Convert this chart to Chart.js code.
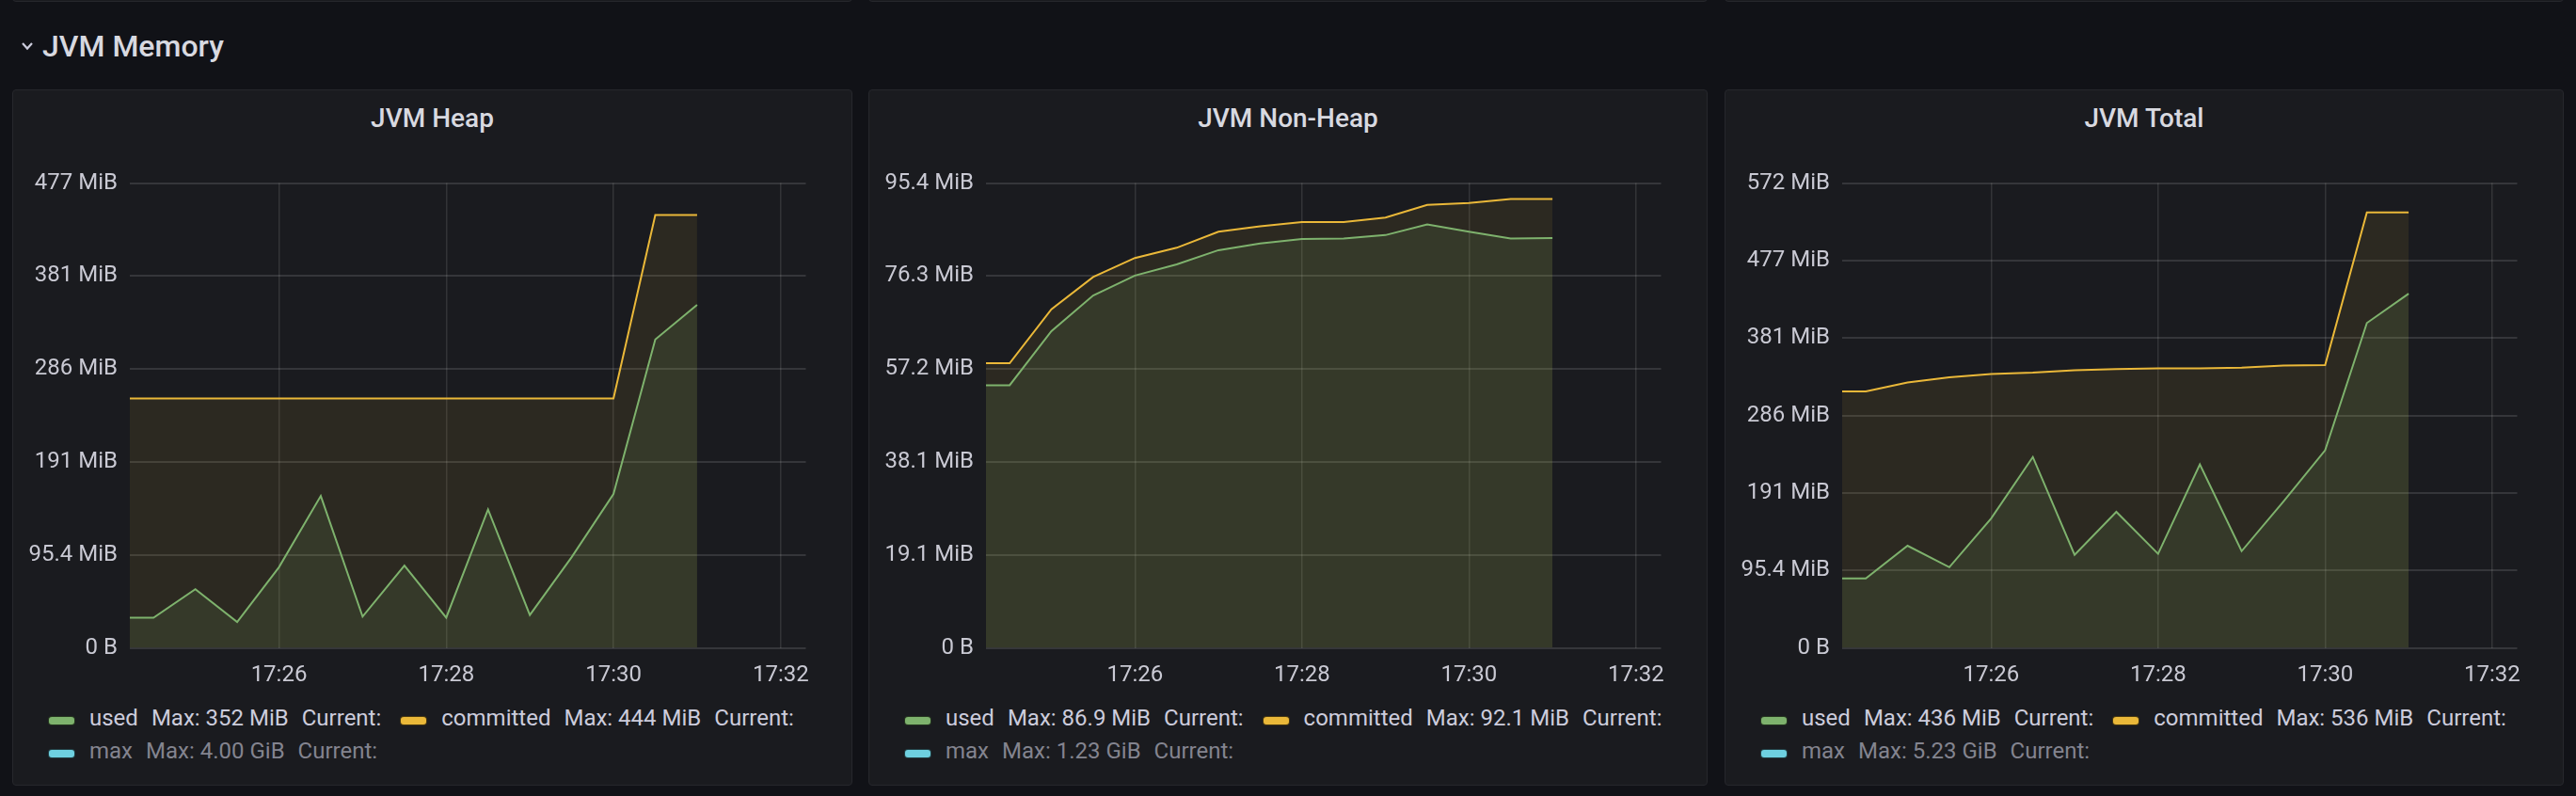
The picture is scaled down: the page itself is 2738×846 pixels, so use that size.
<!DOCTYPE html>
<html>
<head>
<meta charset="utf-8">
<title>JVM Memory</title>
<script src="https://cdn.jsdelivr.net/npm/chart.js@4.4.1/dist/chart.umd.min.js"></script>
<style>
    body {
        margin: 0;
        width: 2738px;
        height: 846px;
        background: #111217;
        overflow: hidden;
        position: relative;
        font-family: Roboto, 'Noto Sans', sans-serif;
        color: #ccccdc;
    }
    .panel {
        position: absolute;
        box-sizing: border-box;
        background: #1a1b1f;
        border: 1px solid #26272c;
        border-radius: 4px;
    }
    .row-title {
        position: absolute;
        left: 45px;
        top: 29px;
        font-size: 32px;
        line-height: 40px;
        font-weight: 500;
        color: #d8d9e0;
    }
    .chevron { position: absolute; left: 21px; top: 43px; }
    .panel-title {
        position: absolute;
        left: 0;
        right: 0;
        top: 13px;
        text-align: center;
        font-size: 28px;
        line-height: 34px;
        font-weight: 500;
        color: #d8d9e0;
    }
    .panel canvas { position: absolute; left: -1px; top: 64px; }
    .legend {
        position: absolute;
        left: 37px;
        top: 650px;
        width: 840px;
        display: flex;
        flex-wrap: wrap;
        font-size: 24px;
        line-height: 35px;
    }
    .legend .item { display: flex; align-items: center; margin-right: 20px; white-space: pre; }
    .legend .item.hidden { color: rgba(204, 204, 220, 0.6); }
    .legend .swatch {
        display: inline-block;
        box-sizing: border-box;
        width: 29px;
        height: 10px;
        border: 1px solid rgba(0, 0, 0, 0.7);
        border-radius: 4px;
        margin-right: 15px;
        position: relative;
        top: 2px;
    }
    .legend .val { margin-left: 14px; }
</style>
</head>
<body>

<!-- bottoms of the panels in the row above -->
<div class="panel" style="left:13px; top:-40px; width:893px; height:42px;"></div>
<div class="panel" style="left:923px; top:-40px; width:892px; height:42px;"></div>
<div class="panel" style="left:1833px; top:-40px; width:892px; height:42px;"></div>

<svg class="chevron" width="16" height="12" viewBox="0 0 16 12">
    <polyline points="3,3 8,8.5 13,3" fill="none" stroke="#ccccdc" stroke-width="2.2"/>
</svg>
<div class="row-title">JVM Memory</div>

<div class="panel" style="left:13px; top:95px; width:893px; height:740px;">
    <div class="panel-title">JVM Heap</div>
    <canvas id="heapChart" width="893" height="580"></canvas>
    <div class="legend" id="heapLegend"></div>
</div>
<div class="panel" style="left:923px; top:95px; width:892px; height:740px;">
    <div class="panel-title">JVM Non-Heap</div>
    <canvas id="nonHeapChart" width="892" height="580"></canvas>
    <div class="legend" id="nonHeapLegend"></div>
</div>
<div class="panel" style="left:1833px; top:95px; width:892px; height:740px;">
    <div class="panel-title">JVM Total</div>
    <canvas id="totalChart" width="892" height="580"></canvas>
    <div class="legend" id="totalLegend"></div>
</div>

<script>
// ---- Data (MiB, one sample every 30s) ----
const times = [
    '17:24:00', '17:24:30', '17:25:00', '17:25:30', '17:26:00', '17:26:30', '17:27:00', '17:27:30',
    '17:28:00', '17:28:30', '17:29:00', '17:29:30', '17:30:00', '17:30:30', '17:31:00',
];
const xRange = ['17:24:13', '17:32:18'];
const xTickLabels = ['17:26', '17:28', '17:30', '17:32'];

const heapUsed = [31.0, 31.0, 60.3, 26.5, 82.8, 155.9, 32.1, 84.5, 31.0, 142.1, 33.8, 93.1, 157.9, 316.5, 352.0];
const heapCommitted = [256, 256, 256, 256, 256, 256, 256, 256, 256, 256, 256, 256, 256, 444, 444];

const nonHeapUsed = [53.9, 53.9, 65.0, 72.3, 76.4, 78.7, 81.6, 83.0, 83.9, 84.0, 84.7, 86.9, 85.4, 84.0, 84.1];
const nonHeapCommitted = [58.4, 58.4, 69.5, 76.1, 80.0, 82.1, 85.4, 86.5, 87.4, 87.4, 88.3, 90.9, 91.3, 92.1, 92.1];

const totalUsed = [85.6, 85.6, 125.8, 99.3, 159.3, 235.0, 114.6, 167.5, 115.8, 225.9, 119.1, 180.0, 243.3, 400.0, 436.0];
const totalCommitted = [315.7, 315.7, 326.8, 333.0, 337.2, 338.8, 341.7, 343.4, 344.2, 344.2, 345.0, 347.5, 348.3, 536, 536];

// y ticks in MiB and the labels Grafana shows for them
const heapTicks = [0, 95.37, 190.73, 286.10, 381.47, 476.84];
const heapTickLabels = ['0 B', '95.4 MiB', '191 MiB', '286 MiB', '381 MiB', '477 MiB'];
const nonHeapTicks = [0, 19.07, 38.15, 57.22, 76.29, 95.37];
const nonHeapTickLabels = ['0 B', '19.1 MiB', '38.1 MiB', '57.2 MiB', '76.3 MiB', '95.4 MiB'];
const totalTicks = [0, 95.37, 190.73, 286.10, 381.47, 476.84, 572.20];
const totalTickLabels = ['0 B', '95.4 MiB', '191 MiB', '286 MiB', '381 MiB', '477 MiB', '572 MiB'];

// ---- Legend ----
const seriesNames = ['used', 'committed', 'max'];
const seriesColors = ['#7EB26D', '#EAB839', '#6ED0E0'];
const heapMax = ['352 MiB', '444 MiB', '4.00 GiB'];
const nonHeapMax = ['86.9 MiB', '92.1 MiB', '1.23 GiB'];
const totalMax = ['436 MiB', '536 MiB', '5.23 GiB'];

const toSec = t => {
    const p = t.split(':').map(Number);
    return p[0] * 3600 + p[1] * 60 + (p[2] || 0);
};

const tickFont = { family: 'Roboto', size: 24 };
const tickColor = '#c9c9d3';

function buildLegend(id, maxes) {
    const el = document.getElementById(id);
    seriesNames.forEach((name, i) => {
        const item = document.createElement('div');
        item.className = 'item' + (name === 'max' ? ' hidden' : '');
        item.innerHTML = '<span class="swatch" style="background:' + seriesColors[i] + '"></span>' +
            '<span>' + name + '</span><span class="val">Max: ' + maxes[i] + '</span><span class="val">Current:</span>';
        el.appendChild(item);
    });
}

function buildChart(id, used, committed, yTicks, yLabels) {
    const xs = times.map(toSec);
    new Chart(document.getElementById(id), {
        type: 'line',
        data: {
            datasets: [
                {
                    label: 'used',
                    data: used.map((v, i) => ({ x: xs[i], y: v })),
                    borderColor: seriesColors[0],
                    backgroundColor: 'rgba(126,178,109,0.12)',
                    fill: 'origin',
                    borderWidth: 2,
                    pointRadius: 0,
                    tension: 0,
                },
                {
                    label: 'committed',
                    data: committed.map((v, i) => ({ x: xs[i], y: v })),
                    borderColor: seriesColors[1],
                    backgroundColor: 'rgba(234,184,57,0.09)',
                    fill: 'origin',
                    borderWidth: 2,
                    pointRadius: 0,
                    tension: 0,
                },
            ],
        },
        options: {
            responsive: false,
            animation: false,
            layout: { padding: { top: 34.6, right: 49.5, left: 0, bottom: 0 } },
            plugins: { legend: { display: false }, tooltip: { enabled: false } },
            scales: {
                x: {
                    type: 'linear',
                    min: toSec(xRange[0]),
                    max: toSec(xRange[1]),
                    afterBuildTicks: axis => { axis.ticks = xTickLabels.map(t => ({ value: toSec(t) })); },
                    afterFit: axis => { axis.height = 51.4; },
                    ticks: {
                        callback: (v, i) => xTickLabels[i],
                        color: tickColor,
                        font: tickFont,
                        padding: 15,
                        maxRotation: 0,
                        autoSkip: false,
                    },
                    grid: { color: 'rgba(255,255,255,0.11)', lineWidth: 1.5, drawTicks: false },
                    border: { display: false },
                },
                y: {
                    min: 0,
                    max: yTicks[yTicks.length - 1],
                    afterBuildTicks: axis => { axis.ticks = yTicks.map(v => ({ value: v })); },
                    afterFit: axis => { axis.width = 125; },
                    ticks: {
                        callback: (v, i) => yLabels[i],
                        color: tickColor,
                        font: tickFont,
                        padding: 13,
                    },
                    grid: { color: 'rgba(255,255,255,0.12)', lineWidth: 2, drawTicks: false },
                    border: { display: false },
                },
            },
        },
    });
}

buildChart('heapChart', heapUsed, heapCommitted, heapTicks, heapTickLabels);
buildChart('nonHeapChart', nonHeapUsed, nonHeapCommitted, nonHeapTicks, nonHeapTickLabels);
buildChart('totalChart', totalUsed, totalCommitted, totalTicks, totalTickLabels);

buildLegend('heapLegend', heapMax);
buildLegend('nonHeapLegend', nonHeapMax);
buildLegend('totalLegend', totalMax);
</script>
</body>
</html>
